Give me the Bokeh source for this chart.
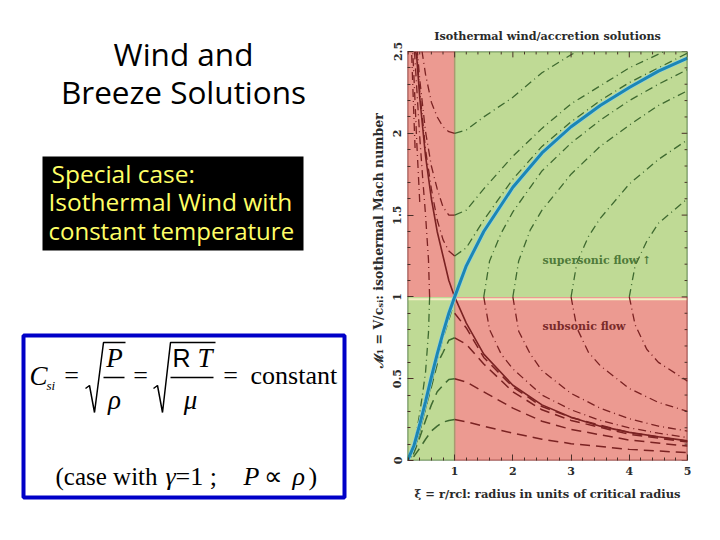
from bokeh.embed import file_html
from bokeh.resources import INLINE
from bokeh.plotting import figure
from bokeh.models import Label, FixedTicker, Range1d

# ---- chart data ----
x_ticks = [1, 2, 3, 4, 5]
x_minor = [0.2, 0.4, 0.6, 0.8, 1.2, 1.4, 1.6, 1.8, 2.2, 2.4, 2.6, 2.8, 3.2, 3.4, 3.6, 3.8, 4.2, 4.4, 4.6, 4.8]
y_ticks = [0, 0.5, 1, 1.5, 2, 2.5]
y_minor = [0.1, 0.2, 0.3, 0.4, 0.6, 0.7, 0.8, 0.9, 1.1, 1.2, 1.3, 1.4, 1.6, 1.7, 1.8, 1.9, 2.1, 2.2, 2.3, 2.4]
x_tick_labels = {1: "1", 2: "2", 3: "3", 4: "4", 5: "5"}
y_tick_labels = {0: "0", 0.5: "0.5", 1: "1", 1.5: "1.5", 2: "2", 2.5: "2.5"}

wind_xi = [0.19, 0.3, 0.4, 0.5, 0.6, 0.7, 0.8, 0.9, 1, 1.2, 1.5, 2, 2.5, 3, 3.5, 4, 4.5, 5]
wind_mach = [0, 0.09, 0.22, 0.36, 0.51, 0.65, 0.78, 0.9, 1, 1.19, 1.40, 1.67, 1.88, 2.04, 2.17, 2.28, 2.38, 2.46]

accretion_xi = [0.33, 0.35, 0.4, 0.5, 0.6, 0.7, 0.8, 0.9, 1, 1.2, 1.5, 2, 2.5, 3, 3.5, 4, 4.5, 5]
accretion_mach = [2.5, 2.46, 2.22, 1.86, 1.6, 1.40, 1.25, 1.10, 1, 0.84, 0.65, 0.46, 0.34, 0.265, 0.21, 0.172, 0.145, 0.12]

# breeze-type curves in the upper right (green) quadrant
up_right_a_xi = [1, 1.2, 1.5, 2, 2.5, 3, 3.5, 4, 4.5, 5]
up_right_a_m = [1.25, 1.30, 1.47, 1.72, 1.92, 2.07, 2.20, 2.31, 2.40, 2.49]
up_right_b_xi = [1, 1.2, 1.5, 2, 2.5, 3, 3.5, 4, 4.6]
up_right_b_m = [1.5, 1.53, 1.66, 1.86, 2.03, 2.18, 2.29, 2.40, 2.5]
up_right_c_xi = [1, 1.2, 1.5, 2, 2.5, 3, 3.1]
up_right_c_m = [2, 2.02, 2.10, 2.22, 2.37, 2.48, 2.5]
up_right_d_xi = [1.5, 1.6, 1.8, 2, 2.5, 3, 3.5, 4, 4.5, 5]
up_right_d_m = [1, 1.22, 1.39, 1.52, 1.77, 1.94, 2.08, 2.20, 2.30, 2.39]
up_right_e_xi = [2, 2.1, 2.3, 2.5, 3, 3.5, 4, 4.5, 5]
up_right_e_m = [1, 1.22, 1.41, 1.53, 1.75, 1.92, 2.05, 2.17, 2.26]
up_right_f_xi = [3, 3.1, 3.3, 3.5, 4, 4.5, 5]
up_right_f_m = [1, 1.21, 1.37, 1.48, 1.69, 1.84, 1.96]
up_right_g_xi = [4, 4.1, 4.3, 4.5, 5]
up_right_g_m = [1, 1.19, 1.34, 1.45, 1.6]

# upper left (red) quadrant
up_left_a_xi = [1, 0.9, 0.8, 0.7, 0.6, 0.5, 0.4, 0.35]
up_left_a_m = [1.25, 1.28, 1.35, 1.47, 1.66, 1.9, 2.26, 2.49]
up_left_b_xi = [1, 0.9, 0.8, 0.7, 0.6, 0.5, 0.4, 0.36]
up_left_b_m = [1.5, 1.5, 1.55, 1.66, 1.8, 2.01, 2.33, 2.5]
up_left_c_xi = [1, 0.9, 0.8, 0.7, 0.6, 0.5, 0.44]
up_left_c_m = [2, 2.01, 2.04, 2.1, 2.19, 2.36, 2.5]
up_left_d_xi = [0.57, 0.55, 0.5, 0.45, 0.4, 0.35, 0.31]
up_left_d_m = [1, 1.23, 1.5, 1.73, 1.98, 2.27, 2.5]
up_left_e_xi = [0.4, 0.35, 0.32, 0.3, 0.28]
up_left_e_m = [1.58, 1.94, 2.19, 2.35, 2.5]
up_left_f_xi = [0.32, 0.3, 0.28, 0.26]
up_left_f_m = [1.91, 2.1, 2.3, 2.5]

# lower right (red) quadrant, dash-dot
low_right_a_xi = [1.5, 1.6, 1.8, 2, 2.5, 3, 3.5, 4, 4.5, 5]
low_right_a_m = [1, 0.80, 0.65, 0.56, 0.40, 0.31, 0.245, 0.2, 0.167, 0.14]
low_right_b_xi = [2, 2.1, 2.3, 2.5, 3, 3.5, 4, 4.5, 5]
low_right_b_m = [1, 0.79, 0.65, 0.55, 0.41, 0.32, 0.255, 0.21, 0.18]
low_right_c_xi = [3, 3.1, 3.3, 3.5, 4, 4.5, 5]
low_right_c_m = [1, 0.81, 0.66, 0.58, 0.44, 0.355, 0.3]
low_right_d_xi = [4, 4.1, 4.3, 4.5, 5]
low_right_d_m = [1, 0.83, 0.68, 0.6, 0.485]

# subsonic dashed curves, both sides of xi = 1
dash_right_xi = [1, 1.2, 1.5, 2, 2.5, 3, 4, 5]
dash_right_a_m = [0.25, 0.237, 0.21, 0.167, 0.13, 0.103, 0.068, 0.048]
dash_right_b_m = [0.5, 0.48, 0.42, 0.32, 0.24, 0.19, 0.125, 0.088]
dash_right_c_m = [0.75, 0.71, 0.59, 0.42, 0.31, 0.245, 0.16, 0.113]
dash_right_d_m = [0.9, 0.81, 0.63, 0.45, 0.33, 0.263, 0.17, 0.118]
dash_left_xi = [1, 0.9, 0.8, 0.7, 0.6, 0.5, 0.4, 0.3, 0.25]
dash_left_a_m = [0.25, 0.245, 0.234, 0.21, 0.18, 0.13, 0.075, 0.025, 0.01]
dash_left_b_m = [0.5, 0.495, 0.46, 0.42, 0.34, 0.245, 0.14, 0.046, 0.017]
dash_left_c_m = [0.75, 0.735, 0.66, 0.59, 0.45, 0.32, 0.18, 0.06, 0.02]
dash_left_d_xi = [0.95, 0.9, 0.8, 0.7, 0.6, 0.5, 0.4, 0.3]
dash_left_d_m = [0.92, 0.86, 0.75, 0.62, 0.47, 0.32, 0.18, 0.06]
low_left_xi = [0.57, 0.55, 0.5, 0.45, 0.4, 0.35, 0.3, 0.25]
low_left_m = [1, 0.78, 0.54, 0.41, 0.29, 0.18, 0.095, 0.035]

# ---- styling ----
RED = "#ec9a91"
GREEN = "#bfda95"
DRED = "#7a2222"
DGREEN = "#3f6a30"
AXIS = "#4a2f28"
SLAB = "DejaVu Serif"
SCRIPT = "Open Sans"
SERIF = "Liberation Serif"
DASHDOT = [8, 4, 1, 4]
DASHED = [10, 6]
X0, X1, Y1 = 0.19, 5, 2.5
HEIGHT = 524

p = figure(width=344, height=HEIGHT, output_backend="svg", toolbar_location=None,
           x_range=Range1d(X0, X1), y_range=Range1d(0, Y1),
           frame_width=280, frame_height=409,
           min_border_left=47, min_border_right=17, min_border_top=51, min_border_bottom=64,
           x_axis_label="ξ = r/rcl: radius in units of critical radius",
           y_axis_label="\u00a0" * 7 + "ℳ₁ = V/cₛᵢ: isothermal Mach number",
           title="Isothermal wind/accretion solutions")
p.styles = {"position": "absolute", "left": "360px", "top": "0px"}
p.grid.visible = False
p.outline_line_color = None
p.title.align = "center"
p.title.text_font = SLAB
p.title.text_font_size = "11.2px"
p.title.text_font_style = "bold"
p.title.text_color = "#2a2a2a"
p.title.standoff = 18

p.quad(left=[X0, 1], right=[1, X1], bottom=[1, 0], top=[Y1, 1], fill_color=RED, line_color=None)
p.quad(left=[X0, 1], right=[1, X1], bottom=[0, 1], top=[1, Y1], fill_color=GREEN, line_color=None)
p.segment(x0=[1, 1], y0=[0, 1], x1=[1, 1], y1=[1, Y1], line_color="#a99a70", line_width=1.5)
p.segment(x0=[X0], y0=[0.985], x1=[X1], y1=[0.985], line_color="#f3eec4", line_width=2)

for xs, ys in [(up_right_a_xi, up_right_a_m), (up_right_b_xi, up_right_b_m), (up_right_c_xi, up_right_c_m),
               (up_right_d_xi, up_right_d_m), (up_right_e_xi, up_right_e_m), (up_right_f_xi, up_right_f_m),
               (up_right_g_xi, up_right_g_m), (low_left_xi, low_left_m)]:
    p.line(xs, ys, line_color=DGREEN, line_width=1.3, line_dash=DASHDOT)
for xs, ys in [(up_left_a_xi, up_left_a_m), (up_left_b_xi, up_left_b_m), (up_left_c_xi, up_left_c_m),
               (up_left_d_xi, up_left_d_m), (up_left_e_xi, up_left_e_m), (up_left_f_xi, up_left_f_m),
               (low_right_a_xi, low_right_a_m), (low_right_b_xi, low_right_b_m),
               (low_right_c_xi, low_right_c_m), (low_right_d_xi, low_right_d_m)]:
    p.line(xs, ys, line_color=DRED, line_width=1.3, line_dash=DASHDOT)
for ys in [dash_right_a_m, dash_right_b_m, dash_right_c_m, dash_right_d_m]:
    p.line(dash_right_xi, ys, line_color=DRED, line_width=1.5, line_dash=DASHED)
for ys in [dash_left_a_m, dash_left_b_m, dash_left_c_m]:
    p.line(dash_left_xi, ys, line_color=DGREEN, line_width=1.5, line_dash=DASHED)
p.line(dash_left_d_xi, dash_left_d_m, line_color=DGREEN, line_width=1.5, line_dash=DASHED)

p.line(accretion_xi, accretion_mach, line_color=DRED, line_width=1.6)
p.line(wind_xi, wind_mach, line_color="#8fd3e6", line_width=4.2)
p.line(wind_xi, wind_mach, line_color="#1c86b4", line_width=3)

# top and right ticks point inwards, like those of the main axes
MAJOR_DY, MINOR_DY, MAJOR_DX, MINOR_DX = 0.036, 0.018, 0.1, 0.05
p.segment(x0=x_ticks, y0=[Y1] * len(x_ticks), x1=x_ticks, y1=[Y1 - MAJOR_DY] * len(x_ticks), line_color=AXIS)
p.segment(x0=x_minor, y0=[Y1] * len(x_minor), x1=x_minor, y1=[Y1 - MINOR_DY] * len(x_minor), line_color=AXIS)
p.segment(x0=[X1] * len(y_ticks), y0=y_ticks, x1=[X1 - MAJOR_DX] * len(y_ticks), y1=y_ticks, line_color=AXIS)
p.segment(x0=[X1] * len(y_minor), y0=y_minor, x1=[X1 - MINOR_DX] * len(y_minor), y1=y_minor, line_color=AXIS)

# frame: each edge takes the dark colour of the quadrant it bounds
p.segment(x0=[X0, X0, 1, X1, X1, X0, 1, 1], y0=[0, 1, 0, 0, 1, Y1, Y1, 0],
          x1=[X0, X0, X1, X1, X1, 1, X1, X0], y1=[1, Y1, 0, 1, Y1, Y1, Y1, 0],
          line_color=[DGREEN, DRED, DRED, DRED, DGREEN, DRED, DGREEN, DGREEN], line_width=1.6)

for axis in [p.xaxis[0], p.yaxis[0]]:
    axis.axis_line_color = None
    axis.major_tick_in = 6
    axis.major_tick_out = 0
    axis.minor_tick_in = 3
    axis.minor_tick_out = 0
    axis.major_tick_line_color = AXIS
    axis.minor_tick_line_color = AXIS
    axis.major_label_text_font = SLAB
    axis.major_label_text_font_style = "bold"
    axis.major_label_text_font_size = "11px"
    axis.major_label_text_color = "#2a2a2a"
    axis.axis_label_text_font = SLAB
    axis.axis_label_text_font_style = "bold"
    axis.axis_label_text_color = "#2a2a2a"
p.xaxis[0].axis_label_text_font_size = "11.5px"
p.yaxis[0].axis_label_text_font_size = "12.5px"
p.xaxis[0].ticker = FixedTicker(ticks=x_ticks, minor_ticks=x_minor)
p.yaxis[0].ticker = FixedTicker(ticks=y_ticks, minor_ticks=y_minor)
p.xaxis[0].major_label_overrides = x_tick_labels
p.yaxis[0].major_label_overrides = y_tick_labels
p.yaxis[0].major_label_orientation = "vertical"
p.xaxis[0].axis_label_standoff = 9
p.yaxis[0].axis_label_standoff = 5
p.xaxis[0].major_label_standoff = 6
p.yaxis[0].major_label_standoff = 6

p.add_layout(Label(x=2.51, y=1.22, text="supersonic flow ↑", text_font=SLAB, text_font_style="bold",
                   text_font_size="11px", text_color="#4f7a3a", text_baseline="middle"))
p.add_layout(Label(x=2.51, y=0.82, text="subsonic flow", text_font=SLAB, text_font_style="bold",
                   text_font_size="11px", text_color="#7a2a2a", text_baseline="middle"))

# ---- left side of the slide: its own figure, whose ranges are page pixels ----
q = figure(width=360, height=HEIGHT, output_backend="svg", toolbar_location=None,
           x_range=Range1d(0, 360), y_range=Range1d(HEIGHT, 0), min_border=0)
q.styles = {"position": "absolute", "left": "0px", "top": "0px"}
q.axis.visible = False
q.grid.visible = False
q.outline_line_color = None


def put(x, y, text, font=SERIF, size=26, style="normal", color="black", align="left"):
    q.add_layout(Label(x=x, y=y, text=text, text_font=font, text_font_size=f"{size}px",
                       text_font_style=style, text_color=color, text_align=align,
                       text_baseline="middle"))


put(183, 53, "Wind and", SCRIPT, 31.5, align="center")
put(183, 91, "Breeze Solutions", SCRIPT, 31.5, align="center")

q.quad(left=[42], right=[303], top=[156], bottom=[250], fill_color="black", line_color=None)
YEL = "#ffff66"
put(51, 173, "Special case:", SCRIPT, 24.5, color=YEL)
put(48, 201, "Isothermal Wind with", SCRIPT, 24.5, color=YEL)
put(48, 230, "constant temperature", SCRIPT, 24, color=YEL)

q.quad(left=[23], right=[344], top=[335], bottom=[497], fill_color="white",
       line_color="#0000c8", line_width=4)

put(29, 375, "C", style="italic", size=27)
put(46, 385, "si", style="italic", size=13)
put(71, 375, "=", size=26, align="center")
q.line([85, 89, 94, 103, 125], [388, 385, 412, 342, 342], line_color="black", line_width=1.5)
q.line([103, 124], [377, 377], line_color="black", line_width=1.5)
put(114, 357, "P", style="italic", size=27, align="center")
put(114, 399, "ρ", style="italic", size=27, align="center")
put(140, 375, "=", size=26, align="center")
q.line([153, 157, 162, 170, 215], [388, 385, 412, 342, 342], line_color="black", line_width=1.5)
q.line([170, 213], [377, 377], line_color="black", line_width=1.5)
put(172, 357, "R", font="Liberation Sans", size=25)
put(197, 357, "T", style="italic", size=27)
put(190, 399, "μ", style="italic", size=27, align="center")
put(230, 375, "=", size=26, align="center")
put(250, 375, "constant", size=26)

put(55, 476, "(case with", size=25)
put(165, 476, "γ", style="italic", size=26)
put(175, 476, "=1 ;", size=26)
put(243, 476, "P", style="italic", size=26)
put(263, 476, "∝", size=26)
put(292, 476, "ρ", style="italic", size=26)
put(308, 476, ")", size=26)

open("out.html", "w").write(file_html([q, p], INLINE))
